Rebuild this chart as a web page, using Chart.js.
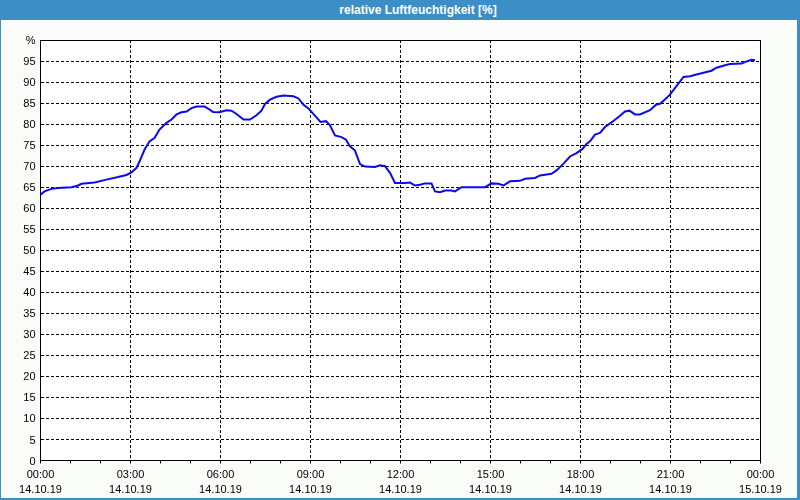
<!DOCTYPE html>
<html>
<head>
<meta charset="utf-8">
<script src="https://cdn.jsdelivr.net/npm/chart.js@4/dist/chart.umd.min.js"></script>
<style>
  html, body { margin: 0; padding: 0; background: #ffffff; }
  #frame {
    position: absolute; left: 0; top: 0; width: 800px; height: 500px;
    box-sizing: border-box; background: #3c8fc6;
  }
  #title {
    position: absolute; left: 0; top: 0; width: 836px; height: 20px;
    line-height: 20px; text-align: center; color: #ffffff;
    font-family: "Liberation Sans", Arial, sans-serif; font-size: 12px; font-weight: bold;
  }
  #wrap {
    position: absolute; left: 1px; top: 20px; width: 796px; height: 478px;
    background: #f9fcf9;
  }
  canvas { display: block; }
</style>
</head>
<body>
<div id="frame">
  <div id="title">relative Luftfeuchtigkeit [%]</div>
  <div id="wrap"><canvas id="c" width="796" height="478"></canvas></div>
</div>
<script>
// minutes after 14.10.19 00:00
const times = [0, 8, 22, 35, 62, 75, 82, 108, 132, 155, 172, 182, 192, 198, 208, 218, 228, 238, 252, 262,
  272, 282, 292, 302, 312, 328, 335, 345, 358, 372, 382, 392, 406, 419, 432, 442, 449, 459, 472, 486,
  506, 516, 526, 536, 542, 552, 560, 571, 579, 589, 602, 611, 619, 629, 639, 649, 669, 679, 689, 699,
  709, 729, 739, 749, 759, 769, 782, 789, 799, 809, 822, 829, 842, 889, 902, 916, 926, 939, 959, 969,
  989, 999, 1022, 1032, 1046, 1059, 1072, 1084, 1092, 1099, 1109, 1119, 1129, 1142, 1159, 1169, 1178, 1189, 1199, 1219,
  1231, 1240, 1259, 1286, 1299, 1312, 1326, 1342, 1352, 1369, 1379, 1402, 1412, 1422, 1429];
// relative humidity [%]
const humidity = [63.2, 64.0, 64.6, 64.8, 65.0, 65.4, 65.8, 66.1, 66.8, 67.4, 67.9, 68.5, 69.6, 71.1, 73.9, 75.9, 76.7, 78.7, 80.3, 81.1,
  82.3, 82.8, 83.0, 83.8, 84.2, 84.2, 83.7, 82.9, 82.8, 83.3, 83.2, 82.4, 81.1, 81.1, 82.1, 83.2, 84.8, 85.8, 86.5, 86.8,
  86.6, 86.1, 84.6, 83.7, 82.9, 81.6, 80.5, 80.7, 79.7, 77.3, 76.9, 76.3, 74.7, 73.7, 70.5, 69.9, 69.8, 70.2, 70.0, 68.4,
  66.0, 66.0, 66.1, 65.4, 65.6, 65.9, 65.9, 64.0, 63.8, 64.2, 64.2, 64.0, 65.0, 65.0, 65.9, 65.8, 65.4, 66.4, 66.5, 67.0,
  67.2, 67.8, 68.2, 69.0, 70.6, 72.3, 73.1, 74.1, 75.3, 75.9, 77.5, 77.9, 79.3, 80.4, 82.0, 83.0, 83.2, 82.3, 82.3, 83.3,
  84.6, 84.9, 87.0, 91.2, 91.4, 91.8, 92.2, 92.7, 93.4, 94.0, 94.3, 94.4, 94.9, 95.3, 95.2];
const tickTimes = ["00:00", "03:00", "06:00", "09:00", "12:00", "15:00", "18:00", "21:00", "00:00"];
const tickDates = ["14.10.19", "14.10.19", "14.10.19", "14.10.19", "14.10.19", "14.10.19", "14.10.19", "14.10.19", "15.10.19"];
const yTopLabel = "%";

const points = times.map((t, i) => ({ x: t, y: humidity[i] }));

const framePlugin = {
  id: 'frame',
  beforeDraw(chart) {
    const { ctx, chartArea: a } = chart;
    ctx.save();
    ctx.fillStyle = '#ffffff';
    ctx.fillRect(a.left, a.top, a.right - a.left, a.bottom - a.top);
    ctx.restore();
  },
  beforeDatasetsDraw(chart) {
    const { ctx, chartArea: a } = chart;
    ctx.save();
    ctx.strokeStyle = '#000000';
    ctx.lineWidth = 1;
    ctx.setLineDash([]);
    const l = Math.floor(a.left) + 0.5, t = Math.floor(a.top) + 0.5;
    const r = Math.floor(a.right) + 0.5, b = Math.floor(a.bottom) + 0.5;
    ctx.strokeRect(l, t, r - l, b - t);
    ctx.restore();
  }
};

new Chart(document.getElementById('c'), {
  type: 'line',
  data: {
    datasets: [{
      data: points,
      borderColor: '#0a0aee',
      borderWidth: 2,
      pointRadius: 0,
      tension: 0,
      fill: false
    }]
  },
  options: {
    responsive: false,
    animation: false,
    devicePixelRatio: 1,
    layout: { padding: { left: 0, right: 36.5, top: 20, bottom: 0 } },
    plugins: { legend: { display: false }, tooltip: { enabled: false }, title: { display: false } },
    scales: {
      x: {
        type: 'linear',
        min: 0, max: 1440,
        afterFit(scale) { scale.height = 37.5; },
        ticks: {
          stepSize: 60,
          autoSkip: false,
          maxRotation: 0,
          minRotation: 0,
          padding: 4,
          color: '#000000',
          font: { family: '"Liberation Sans", Arial, sans-serif', size: 11, lineHeight: '15px' },
          callback(v) {
            if (v % 180 !== 0) return '';
            const i = v / 180;
            return [tickTimes[i], tickDates[i]];
          }
        },
        grid: {
          color: (c) => (c.tick && c.tick.value % 180 === 0 && c.tick.value !== 0 && c.tick.value !== 1440) ? '#000000' : 'rgba(0,0,0,0)',
          tickColor: '#000000',
          tickLength: 3,
          lineWidth: 1,
          drawTicks: true
        },
        border: { display: false, dash: [3, 2] }
      },
      y: {
        min: 0, max: 100,
        afterFit(scale) { scale.width = 39.5; },
        ticks: {
          stepSize: 5,
          padding: 5,
          labelOffset: 1,
          color: '#000000',
          font: { family: '"Liberation Sans", Arial, sans-serif', size: 11 },
          callback(v) { return v === 100 ? yTopLabel : String(v); }
        },
        grid: {
          color: (c) => (c.tick && c.tick.value !== 0 && c.tick.value !== 100) ? '#000000' : 'rgba(0,0,0,0)',
          lineWidth: 1,
          drawTicks: false
        },
        border: { display: false, dash: [3, 2] }
      }
    }
  },
  plugins: [framePlugin]
});
</script>
</body>
</html>
